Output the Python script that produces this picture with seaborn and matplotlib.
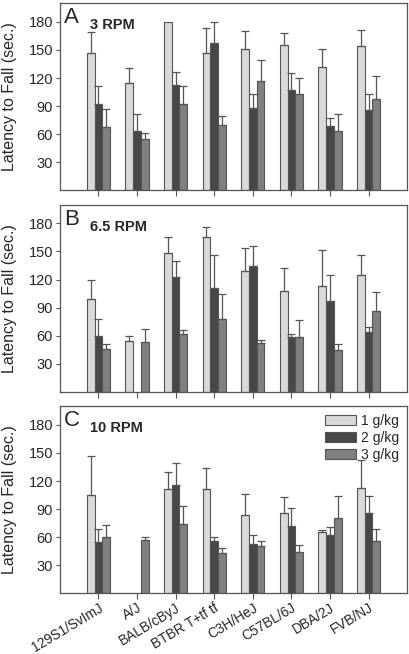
import numpy as np
import pandas as pd
import matplotlib
matplotlib.use("Agg")
import matplotlib.pyplot as plt
import seaborn as sns

strains = ["129S1/SvImJ", "A/J", "BALB/cByJ", "BTBR T+tf tf",
           "C3H/HeJ", "C57BL/6J", "DBA/2J", "FVB/NJ"]
doses = ["1 g/kg", "2 g/kg", "3 g/kg"]
panels = ["A", "B", "C"]
speeds = ["3 RPM", "6.5 RPM", "10 RPM"]

# mean latency per strain, one list per dose
rpm3_mean = [[147, 115, 180, 147, 151, 155, 132, 154],
             [92, 63, 113, 158, 88, 107, 69, 86],
             [68, 55, 92, 70, 117, 103, 63, 98]]
rpm3_err = [[22, 16, 0, 27, 19, 13, 19, 17],
            [19, 19, 13, 22, 15, 18, 8, 17],
            [19, 6, 20, 9, 22, 17, 18, 24]]

rpm65_mean = [[99, 54, 148, 166, 129, 108, 113, 125],
              [60, np.nan, 123, 111, 135, 58, 97, 64],
              [46, 53, 62, 78, 52, 59, 45, 86]]
rpm65_err = [[20, 6, 17, 10, 25, 24, 39, 21],
             [18, 0, 17, 35, 21, 4, 28, 5],
             [5, 14, 4, 26, 3, 18, 6, 21]]

rpm10_mean = [[105, np.nan, 112, 111, 84, 86, 65, 113],
              [55, np.nan, 116, 56, 53, 72, 62, 86],
              [60, 57, 74, 43, 51, 44, 80, 56]]
rpm10_err = [[42, 0, 18, 23, 22, 17, 3, 30],
             [14, 0, 23, 4, 9, 19, 9, 18],
             [13, 3, 19, 5, 5, 8, 24, 13]]

means = [rpm3_mean, rpm65_mean, rpm10_mean]
errs = [rpm3_err, rpm65_err, rpm10_err]

colors = ["#d9d9d9", "#474747", "#808080"]
edge = "#555555"

sns.set_style("white")
plt.rcParams["font.family"] = ["Liberation Sans", "DejaVu Sans"]

fig, axes = plt.subplots(3, 1, figsize=(4.1, 6.54), dpi=100)
plt.subplots_adjust(left=0.146, right=0.993, top=0.995, bottom=0.093, hspace=0.078)

for k, ax in enumerate(axes):
    rows = []
    for j, d in enumerate(doses):
        for i, s in enumerate(strains):
            rows.append({"strain": s, "dose": d,
                         "latency": means[k][j][i], "err": errs[k][j][i]})
    df = pd.DataFrame(rows)

    sns.barplot(data=df, x="strain", y="latency", hue="dose",
                order=strains, hue_order=doses, palette=colors,
                errorbar=None, width=0.6, edgecolor=edge, linewidth=0.8,
                ax=ax, legend=(k == 2))

    # one-sided error bars on top of each bar
    bar_conts = list(ax.containers)
    for j, cont in enumerate(bar_conts):
        for bar in cont:
            h = bar.get_height()
            if np.isnan(h) or h == 0:
                continue
            xc = bar.get_x() + bar.get_width() / 2
            i = int(round(xc))
            e = df[(df["strain"] == strains[i]) & (df["dose"] == doses[j])]["err"].values[0]
            if e > 0:
                ax.errorbar(xc, h, yerr=[[0], [e]], fmt="none", ecolor=edge,
                            elinewidth=0.9, capsize=2.6, capthick=0.9)

    ax.set_xlim(-1, 8)
    ax.set_ylim(0, 200)
    ax.set_yticks([30, 60, 90, 120, 150, 180])
    ax.set_ylabel("Latency to Fall (sec.)", fontsize=11.5)
    ax.yaxis.set_label_coords(-0.124, 0.5)
    ax.set_xlabel("")
    ax.tick_params(axis="y", labelsize=10.5, length=3, width=0.8,
                   color=edge, direction="out", left=True, pad=2)
    ax.tick_params(axis="x", length=4, width=0.8, color=edge,
                   direction="out", bottom=True, pad=1.5)
    for sp in ax.spines.values():
        sp.set_color(edge)
        sp.set_linewidth(0.9)

    ax.text(0.013, 0.98, panels[k], transform=ax.transAxes, fontsize=16,
            ha="left", va="top")
    ax.text(0.088, 0.92, speeds[k], transform=ax.transAxes, fontsize=10.5,
            fontweight="bold", ha="left", va="top")

    if k < 2:
        ax.set_xticklabels([])
    else:
        ax.set_xticks(range(len(strains)))
        ax.set_xticklabels(strains, rotation=31, ha="right",
                           rotation_mode="anchor", fontsize=9.8)
        leg = ax.legend(loc="upper right", frameon=False, fontsize=10,
                        handlelength=2.2, handleheight=0.7,
                        labelspacing=0.22, handletextpad=0.4,
                        borderaxespad=0.15, title=None)

plt.savefig("out.png", dpi=100)
